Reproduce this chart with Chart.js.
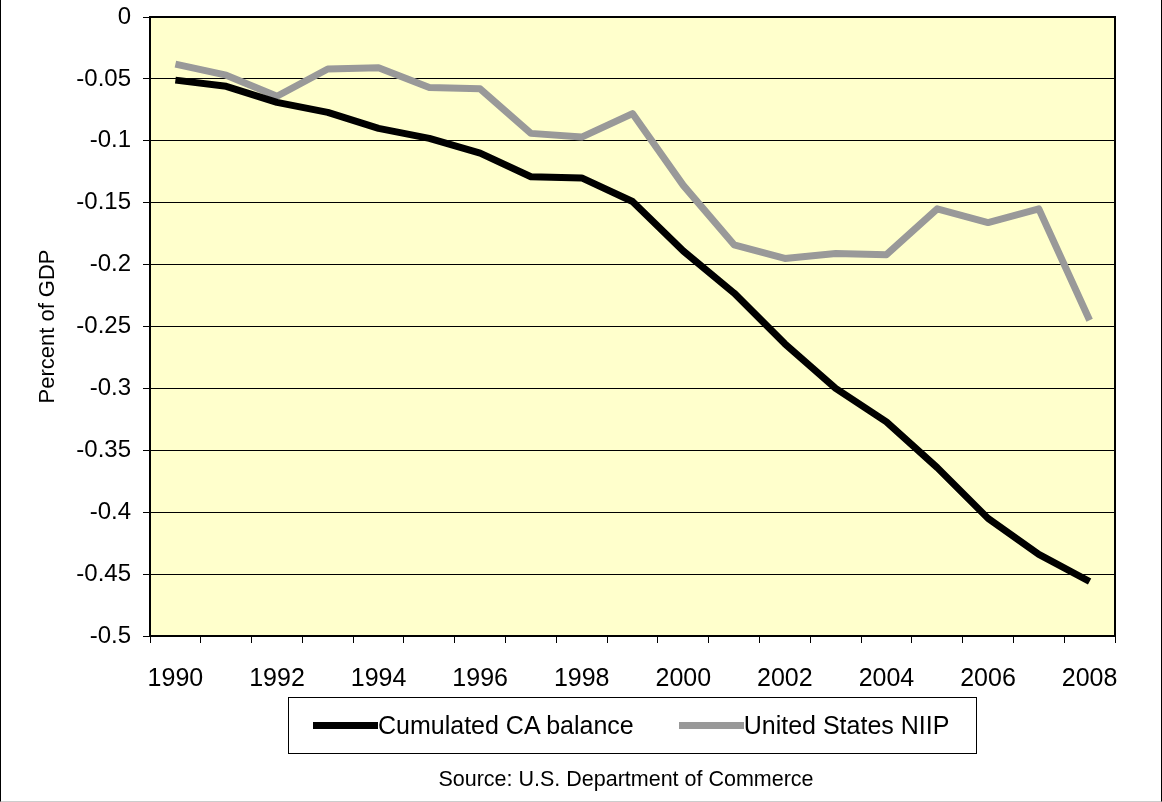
<!DOCTYPE html>
<html>
<head>
<meta charset="utf-8">
<script src="https://cdn.jsdelivr.net/npm/chart.js@4/dist/chart.umd.min.js"></script>
<style>
  body { margin: 0; background: #fff; }
  #wrap { position: relative; width: 1160px; height: 801px; border-left: 1px solid #000; border-right: 1px solid #000; border-bottom: 1px solid #ccc; font-family: "Liberation Sans", Arial, sans-serif; }
  canvas { position: absolute; left: 0; top: 0; }
  #legend { position: absolute; left: 287px; top: 697px; width: 687px; height: 55px; border: 1px solid #000; display: flex; align-items: center; font-size: 25px; color: #000; }
  .item { display: flex; align-items: center; }
  .swatch { display: inline-block; width: 65px; height: 7px; }
  #source { position: absolute; left: 0; top: 767px; width: 1250px; text-align: center; font-size: 21.5px; color: #000; }
</style>
</head>
<body>
<div id="wrap">
  <canvas id="chart" width="1160" height="801"></canvas>
  <div id="legend">
    <div class="item" style="margin-left:24px"><span class="swatch" style="background:#000"></span>Cumulated CA balance</div>
    <div class="item" style="margin-left:45px"><span class="swatch" style="background:#999"></span>United States NIIP</div>
  </div>
  <div id="source">Source: U.S. Department of Commerce</div>
</div>
<script>
const years = ['1990', '1991', '1992', '1993', '1994', '1995', '1996', '1997', '1998', '1999',
               '2000', '2001', '2002', '2003', '2004', '2005', '2006', '2007', '2008'];
const cumulatedCA = [-0.051, -0.056, -0.069, -0.077, -0.090, -0.098, -0.110, -0.129, -0.130, -0.149,
                     -0.189, -0.223, -0.264, -0.300, -0.327, -0.364, -0.405, -0.434, -0.456];
const usNIIP = [-0.038, -0.047, -0.064, -0.042, -0.041, -0.057, -0.058, -0.094, -0.097, -0.078,
                -0.136, -0.184, -0.195, -0.191, -0.192, -0.155, -0.166, -0.155, -0.245];
const yTicks = [0, -0.05, -0.1, -0.15, -0.2, -0.25, -0.3, -0.35, -0.4, -0.45, -0.5];

const plotFrame = {
    id: 'plotFrame',
    beforeDraw(chart) {
        const a = chart.chartArea, ctx = chart.ctx;
        ctx.save();
        ctx.fillStyle = '#FFFFCC';
        ctx.fillRect(a.left, a.top, a.right - a.left, a.bottom - a.top);
        ctx.restore();
    },
    afterDraw(chart) {
        const a = chart.chartArea, ctx = chart.ctx;
        ctx.save();
        ctx.strokeStyle = '#000';
        ctx.lineWidth = 2;
        ctx.strokeRect(a.left, a.top, a.right - a.left, a.bottom - a.top);
        ctx.restore();
    }
};

const font = '"Liberation Sans", Arial, sans-serif';

new Chart(document.getElementById('chart'), {
    type: 'line',
    data: {
        labels: years,
        datasets: [{
            label: 'Cumulated CA balance',
            data: cumulatedCA,
            borderColor: '#000',
            borderWidth: 7,
            pointRadius: 0,
            tension: 0,
            borderJoinStyle: 'round'
        }, {
            label: 'United States NIIP',
            data: usNIIP,
            borderColor: '#999',
            borderWidth: 7,
            pointRadius: 0,
            tension: 0,
            borderJoinStyle: 'round'
        }]
    },
    options: {
        responsive: false,
        animation: false,
        layout: { padding: { left: 0, top: 17, right: 46, bottom: 105 } },
        plugins: { legend: { display: false }, tooltip: { enabled: false } },
        scales: {
            x: {
                offset: true,
                grid: { offset: true, drawOnChartArea: false, drawTicks: true, tickLength: 7, color: '#000', lineWidth: 1 },
                border: { color: '#000', width: 2 },
                ticks: {
                    autoSkip: false, maxRotation: 0, padding: 21, color: '#000',
                    font: { family: font, size: 25 },
                    callback: (v, i) => i % 2 === 0 ? years[i] : ''
                },
                afterFit: s => { s.height = 60; s.paddingLeft = 0; s.paddingRight = 0; }
            },
            y: {
                min: -0.5, max: 0,
                afterBuildTicks: s => { s.ticks = yTicks.map(v => ({ value: v })); },
                grid: { color: '#000', lineWidth: 1, drawTicks: true, tickLength: 7 },
                border: { color: '#000', width: 2 },
                ticks: {
                    padding: 12, color: '#000',
                    font: { family: font, size: 24 },
                    callback: v => String(Math.round(v * 100) / 100)
                },
                title: {
                    display: true, text: 'Percent of GDP', color: '#000',
                    font: { family: font, size: 22 },
                    padding: { top: 34, bottom: 0 }
                },
                afterFit: s => { s.width = 149; s.paddingTop = 0; s.paddingBottom = 0; }
            }
        }
    },
    plugins: [plotFrame]
});
</script>
</body>
</html>
